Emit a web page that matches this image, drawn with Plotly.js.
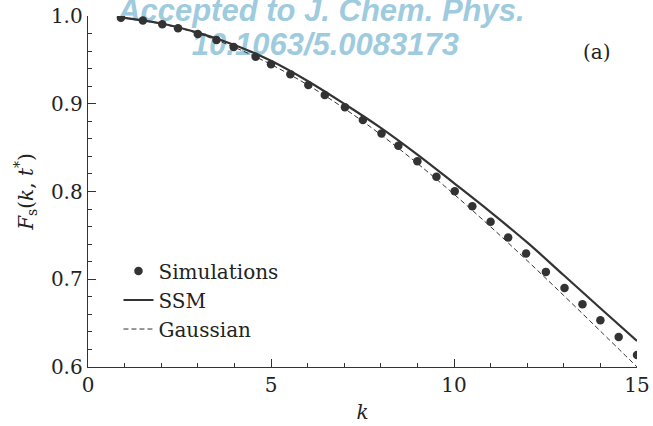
<!DOCTYPE html>
<html>
<head>
<meta charset="utf-8">
<script src="https://cdn.plot.ly/plotly-3.0.1.min.js"></script>
<style>html,body{margin:0;padding:0;background:#fff;}#chart{width:653px;height:426px;}</style>
</head>
<body>
<div id="chart"></div>
<script>
// Simulation points
const simK = [0.9, 1.5, 2.03, 2.46, 3.0, 3.51, 3.98, 4.58, 5.0, 5.53, 6.02, 6.47, 7.02, 7.51, 8.02, 8.48, 9.0, 9.52, 10.02, 10.5, 11.0, 11.48, 11.97, 12.51, 13.02, 13.51, 14.0, 14.5, 15.0];
const simF = [0.998, 0.995, 0.9905, 0.986, 0.9795, 0.9726, 0.9646, 0.9536, 0.9449, 0.9335, 0.9213, 0.9099, 0.8959, 0.8814, 0.8662, 0.8521, 0.8346, 0.8167, 0.8004, 0.7833, 0.7654, 0.7476, 0.7293, 0.7084, 0.6901, 0.6715, 0.6533, 0.6342, 0.6137];
// Curves
const lineK = [0.9, 2, 3, 4, 5, 6, 7, 8, 9, 10, 11, 12, 13, 14, 15];
const ssmF = [0.9985, 0.9915, 0.981, 0.967, 0.949, 0.926, 0.900, 0.8725, 0.842, 0.8095, 0.7765, 0.742, 0.7045, 0.667, 0.6296];
const gaussF = [0.998, 0.991, 0.980, 0.9643, 0.9448, 0.9215, 0.8947, 0.8648, 0.832, 0.7969, 0.7598, 0.7212, 0.6814, 0.6409, 0.6001];
const seriesNames = ['Simulations', 'SSM', 'Gaussian'];
const xTicks = [0, 5, 10, 15];
const yTicks = [0.6, 0.7, 0.8, 0.9, 1.0];
const watermark = ['Accepted to J. Chem. Phys.', '10.1063/5.0083173'];
const panelLabel = '(a)';

const ink = '#333333';
const serif = 'DejaVu Serif, serif';

const traces = [
  {x: simK, y: simF, name: seriesNames[0], mode: 'markers', type: 'scatter',
   marker: {color: ink, size: 8.5}},
  {x: lineK, y: ssmF, name: seriesNames[1], mode: 'lines', type: 'scatter',
   line: {color: ink, width: 2.2, shape: 'spline'}},
  {x: lineK, y: gaussF, name: seriesNames[2], mode: 'lines', type: 'scatter',
   line: {color: ink, width: 1, dash: '5px,3px', shape: 'spline'}}
];

const axisCommon = {
  showline: true, linecolor: ink, linewidth: 1.3, mirror: false,
  ticks: 'inside', tickcolor: ink, tickwidth: 1, ticklen: 8,
  showgrid: false, zeroline: false,
  tickfont: {family: serif, size: 20, color: '#222'}
};

const layout = {
  width: 653, height: 426,
  margin: {l: 87.5, r: 16.3, t: 16, b: 59.3},
  paper_bgcolor: '#fff', plot_bgcolor: 'rgba(0,0,0,0)',
  showlegend: true,
  legend: {x: 0.0555, y: 0.329, xanchor: 'left', yanchor: 'top',
    bgcolor: 'rgba(0,0,0,0)', borderwidth: 0,
    font: {family: serif, size: 20, color: '#222'}, tracegroupgap: 0},
  xaxis: Object.assign({}, axisCommon, {
    range: [0, 15], tickvals: xTicks, ticktext: xTicks.map(String),
    minor: {dtick: 1, ticks: 'inside', ticklen: 4, tickcolor: ink, tickwidth: 1, showgrid: false},
    title: {text: '<i>k</i>', font: {family: serif, size: 20, color: '#222'}, standoff: 8}
  }),
  yaxis: Object.assign({}, axisCommon, {
    range: [0.6, 1.0], tickvals: yTicks, ticktext: yTicks.map(v => v.toFixed(1)),
    minor: {dtick: 0.02, ticks: 'inside', ticklen: 4, tickcolor: ink, tickwidth: 1, showgrid: false},
    title: {text: '<i>F</i><sub>s</sub>(<i>k</i>, <i>t</i><sup>*</sup>)', font: {family: serif, size: 20, color: '#222'}, standoff: 12}
  }),
  shapes: [
    {type: 'rect', xref: 'paper', yref: 'paper', x0: -0.01, x1: 0.86, y0: 0.971, y1: 1.076,
     line: {width: 0}, fillcolor: 'rgba(0,0,0,0)', layer: 'below',
     label: {text: watermark[0], textposition: 'middle center',
       font: {family: 'Liberation Sans, Arial, sans-serif', size: 31, color: '#9ecbde', weight: 'bold', style: 'italic'}}},
    {type: 'rect', xref: 'paper', yref: 'paper', x0: 0.0, x1: 0.865, y0: 0.876, y1: 0.976,
     line: {width: 0}, fillcolor: 'rgba(0,0,0,0)', layer: 'below',
     label: {text: watermark[1], textposition: 'middle center',
       font: {family: 'Liberation Sans, Arial, sans-serif', size: 31, color: '#9ecbde', weight: 'bold', style: 'italic'}}}
  ],
  annotations: [
    {text: panelLabel, xref: 'paper', yref: 'paper', x: 0.928, y: 0.897, showarrow: false,
     xanchor: 'center', yanchor: 'middle', font: {family: serif, size: 20, color: '#222'}}
  ]
};

Plotly.newPlot('chart', traces, layout, {staticPlot: true, displayModeBar: false});
</script>
</body>
</html>
